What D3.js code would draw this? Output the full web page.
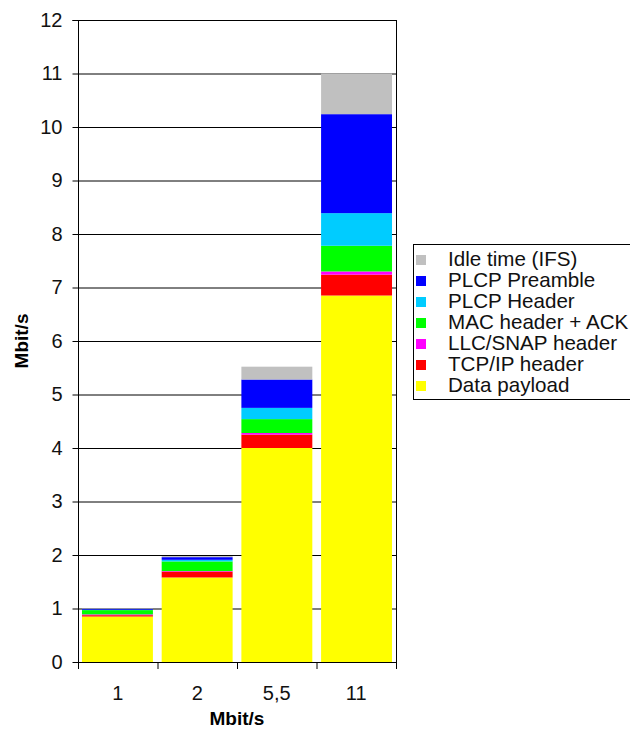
<!DOCTYPE html>
<html>
<head>
<meta charset="utf-8">
<script src="https://cdn.jsdelivr.net/npm/d3@7"></script>
<style>
  body { margin: 0; background: #fff; }
  text { font-family: Arial, "Liberation Sans", sans-serif; }
</style>
</head>
<body>
<div id="chart"></div>
<script>
// bit rates on the x axis
const rates = ["1", "2", "5,5", "11"];

// stacked series, bottom to top (Mbit/s)
const dataPayload  = [0.85, 1.58, 4.00, 6.85];
const tcpIpHeader  = [0.025, 0.11, 0.25, 0.39];
const llcSnap      = [0.015, 0.01, 0.03, 0.06];
const macAck       = [0.08, 0.18, 0.26, 0.48];
const plcpHeader   = [0.008, 0.03, 0.21, 0.61];
const plcpPreamble = [0.015, 0.05, 0.53, 1.85];
const idleTime     = [0.007, 0.02, 0.24, 0.76];

const yTicks = [0, 1, 2, 3, 4, 5, 6, 7, 8, 9, 10, 11, 12];

const seriesNames = ["Data payload", "TCP/IP header", "LLC/SNAP header", "MAC header + ACK",
                     "PLCP Header", "PLCP Preamble", "Idle time (IFS)"];
const seriesVals = [dataPayload, tcpIpHeader, llcSnap, macAck, plcpHeader, plcpPreamble, idleTime];
const seriesColors = ["#ffff00", "#ff0000", "#ff00ff", "#00ff00", "#00ccff", "#0000ff", "#c0c0c0"];

const width = 630, height = 729;
const mLeft = 78, mRight = 396, mTop = 20, mBottom = 662;

// build rows for d3.stack
const rows = rates.map((r, i) => {
  const o = { rate: r };
  seriesNames.forEach((s, k) => { o[s] = seriesVals[k][i]; });
  return o;
});
const stacked = d3.stack().keys(seriesNames)(rows);

const x = d3.scaleBand().domain(rates).range([mLeft, mRight])
  .paddingInner(0.11).paddingOuter(0.05);
const y = d3.scaleLinear().domain([0, 12]).range([mBottom, mTop]);
const color = d3.scaleOrdinal().domain(seriesNames).range(seriesColors);

const svg = d3.select("#chart").append("svg")
  .attr("width", width).attr("height", height);

// gridlines
svg.append("g")
  .selectAll("line")
  .data(yTicks.filter(d => d > 0))
  .join("line")
  .attr("x1", mLeft).attr("x2", mRight)
  .attr("y1", d => y(d) + 0.5).attr("y2", d => y(d) + 0.5)
  .attr("stroke", "#000").attr("stroke-width", 1);

// right border
svg.append("line")
  .attr("x1", mRight + 0.5).attr("x2", mRight + 0.5)
  .attr("y1", mTop).attr("y2", mBottom)
  .attr("stroke", "#000");

// bars
svg.append("g")
  .selectAll("g")
  .data(stacked)
  .join("g")
  .attr("fill", d => color(d.key))
  .selectAll("rect")
  .data(d => d)
  .join("rect")
  .attr("x", d => x(d.data.rate))
  .attr("width", x.bandwidth())
  .attr("y", d => y(d[1]))
  .attr("height", d => y(d[0]) - y(d[1]));

// y axis
const yAxis = d3.axisLeft(y).tickValues(yTicks).tickSize(6).tickPadding(10);
const gy = svg.append("g")
  .attr("transform", `translate(${mLeft + 0.5},0)`)
  .call(yAxis);
gy.select(".domain").attr("stroke", "#000").attr("d", `M-6,${mTop + 0.5}H0V${mBottom + 0.5}`);
gy.selectAll("text").style("font-size", "20px").attr("fill", "#111");

// x axis: ticks at band boundaries
svg.append("line")
  .attr("x1", mLeft).attr("x2", mRight + 1)
  .attr("y1", mBottom + 0.5).attr("y2", mBottom + 0.5)
  .attr("stroke", "#000");
const step = (mRight - mLeft) / rates.length;
svg.append("g")
  .selectAll("line")
  .data(d3.range(rates.length + 1))
  .join("line")
  .attr("x1", i => mLeft + i * step + 0.5).attr("x2", i => mLeft + i * step + 0.5)
  .attr("y1", mBottom).attr("y2", mBottom + 7)
  .attr("stroke", "#000");
svg.append("g")
  .selectAll("text")
  .data(rates)
  .join("text")
  .attr("x", (d, i) => mLeft + (i + 0.5) * step)
  .attr("y", 700)
  .attr("text-anchor", "middle")
  .style("font-size", "20px")
  .attr("fill", "#111")
  .text(d => d);

// axis titles
svg.append("text")
  .attr("x", (mLeft + mRight) / 2).attr("y", 725)
  .attr("text-anchor", "middle")
  .style("font-size", "19px").style("font-weight", "bold")
  .text("Mbit/s");
svg.append("text")
  .attr("transform", "translate(28,341) rotate(-90)")
  .attr("text-anchor", "middle")
  .style("font-size", "19px").style("font-weight", "bold")
  .text("Mbit/s");

// legend (top entry = top of stack)
const legend = svg.append("g").attr("transform", "translate(413,244)");
legend.append("rect")
  .attr("x", 0.5).attr("y", 0.5).attr("width", 230).attr("height", 155)
  .attr("fill", "#fff").attr("stroke", "#000");
const legendItems = seriesNames.slice().reverse();
const li = legend.selectAll("g.item")
  .data(legendItems)
  .join("g")
  .attr("class", "item")
  .attr("transform", (d, i) => `translate(0,${i * 21})`);
li.append("rect")
  .attr("x", 3).attr("y", 11).attr("width", 10).attr("height", 10)
  .attr("fill", d => color(d));
li.append("text")
  .attr("x", 35).attr("y", 22)
  .style("font-size", "20.6px")
  .attr("fill", "#111")
  .text(d => d);
</script>
</body>
</html>
